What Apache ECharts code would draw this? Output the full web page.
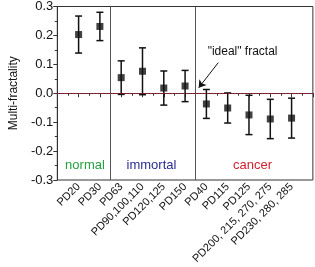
<!DOCTYPE html>
<html><head><meta charset="utf-8">
<script src="https://cdn.jsdelivr.net/npm/echarts@6/dist/echarts.min.js"></script>
<style>html,body{margin:0;padding:0;background:#fff}#c{width:315px;height:267px}</style>
</head><body><div id="c"></div>
<script>
var categories = ['PD20','PD30','PD63','PD90,100,110','PD120,125','PD150','PD40','PD115','PD125','PD200, 215, 270, 275','PD230, 280, 285'];
var means = [0.203, 0.231, 0.054, 0.076, 0.018, 0.025, -0.037, -0.051, -0.075, -0.089, -0.086];
var errs  = [0.064, 0.049, 0.058, 0.081, 0.059, 0.054, 0.050, 0.052, 0.068, 0.068, 0.069];
var yTicks = [-0.3, -0.2, -0.1, 0.0, 0.1, 0.2, 0.3];
var groups = ['normal','immortal','cancer'];
var groupColors = ['#23a040','#2b2b96','#d42031'];
var groupX = [1.3, 4.42, 9.17];
var separators = [2.5, 6.5];

var pts = means.map(function(m,i){return [i+1, m];});
var bars = means.map(function(m,i){return [i+1, m-errs[i], m+errs[i]];});

var chart = echarts.init(document.getElementById('c'), null, {renderer:'canvas'});
var F = 'Liberation Sans, Arial, sans-serif';
chart.setOption({
  animation:false,
  grid:{left:54, right:2, top:6, bottom:87, show:true, borderColor:'#333', borderWidth:1},
  xAxis:{type:'value', min:0, max:12, interval:1,
    axisLine:{show:true, lineStyle:{color:'#333'}},
    axisTick:{show:true, length:4, lineStyle:{color:'#333'}},
    minorTick:{show:true, splitNumber:2, length:2.5, lineStyle:{color:'#333'}},
    splitLine:{show:false},
    axisLabel:{rotate:45, fontSize:11, fontFamily:F, color:'#111', margin:5,
      formatter:function(v){var i=Math.round(v)-1; return (i>=0&&i<categories.length)?categories[i]:'';}}},
  yAxis:{type:'value', min:yTicks[0], max:yTicks[yTicks.length-1], interval:0.1,
    name:'Multi-fractality', nameLocation:'middle', nameGap:35, nameRotate:90,
    nameTextStyle:{fontSize:12, fontFamily:F, color:'#111'},
    axisLine:{show:true, lineStyle:{color:'#333'}},
    axisTick:{show:true, length:4, lineStyle:{color:'#333'}},
    minorTick:{show:true, splitNumber:2, length:2.5, lineStyle:{color:'#333'}},
    splitLine:{show:false},
    axisLabel:{fontSize:13, fontFamily:F, color:'#111', margin:4,
      formatter:function(v){return v.toFixed(1);}}},
  series:[
    {type:'custom', data:bars, z:3,
     renderItem:function(params, api){
       var x=api.value(0), lo=api.value(1), hi=api.value(2);
       var p1=api.coord([x,lo]), p2=api.coord([x,hi]);
       var w=3.5;
       var st={stroke:'#111', lineWidth:1.5};
       return {type:'group', children:[
         {type:'line', shape:{x1:p1[0],y1:p1[1],x2:p2[0],y2:p2[1]}, style:st},
         {type:'line', shape:{x1:p1[0]-w,y1:p1[1],x2:p1[0]+w,y2:p1[1]}, style:st},
         {type:'line', shape:{x1:p2[0]-w,y1:p2[1],x2:p2[0]+w,y2:p2[1]}, style:st}
       ]};
     }},
    {type:'scatter', data:pts, symbol:'rect', symbolSize:7, itemStyle:{color:'#111'}, z:4,
     markLine:{silent:true, symbol:'none', label:{show:false},
       data:[
         {xAxis:separators[0], lineStyle:{color:'#555', width:1, type:'solid'}},
         {xAxis:separators[1], lineStyle:{color:'#555', width:1, type:'solid'}},
         {yAxis:0, lineStyle:{color:'#c8102e', width:1.2, type:[1.5,1.5]}},
         [{coord:[7.56,0.106], symbol:'none'},{coord:[6.64,0.019], symbol:'arrow', symbolSize:7}]
       ].map(function(d){ if(Array.isArray(d)){d[0].lineStyle={color:'#111',width:1,type:'solid'}; d[1].lineStyle={color:'#111',width:1,type:'solid'};} return d;})
     },
     markPoint:{silent:true, symbolSize:0,
       data:groups.map(function(g,i){return {coord:[groupX[i],-0.248], label:{show:true, formatter:g, color:groupColors[i], fontSize:13, fontFamily:F, position:'inside'}};})
         .concat([{coord:[8.7,0.144], label:{show:true, formatter:'"ideal" fractal', color:'#111', fontSize:12, fontFamily:F, position:'inside'}}])
     }}
  ]
});
</script></body></html>
